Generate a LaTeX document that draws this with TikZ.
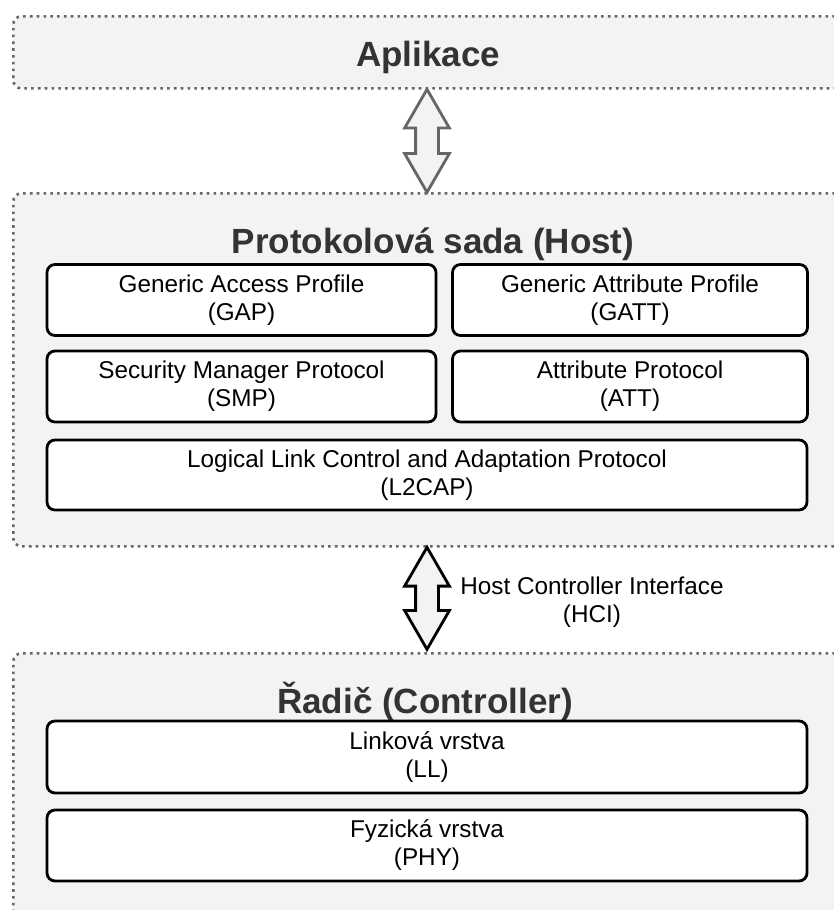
\documentclass[tikz,border=0pt]{standalone}
\usepackage{fontspec}
\setmainfont{Liberation Sans}
\usetikzlibrary{shapes.arrows,calc}
\definecolor{cfill}{HTML}{F3F3F3}
\definecolor{cdot}{HTML}{666666}
\definecolor{ctitle}{HTML}{333333}
\begin{document}
\begin{tikzpicture}[x=1pt,y=-1pt,
 container/.style={draw=cdot, fill=cfill, line width=2.6pt, dash pattern=on 2.6pt off 4.2pt, rounded corners=8pt, anchor=north west, inner sep=0pt},
 box/.style={draw=black, fill=white, line width=2.8pt, rounded corners=8pt, inner sep=0pt, align=center, font=\fontsize{24.3}{28}\selectfont},
 title/.style={font=\fontsize{35}{40}\selectfont\bfseries, text=ctitle, anchor=base, inner sep=0pt},
 dbl/.style={double arrow, rotate=90, fill=cfill, line width=2.8pt, inner xsep=0pt, inner ysep=10pt, double arrow head extend=11pt, double arrow tip angle=60},
 lbl/.style={font=\fontsize{24.3}{28}\selectfont, align=center, inner sep=0pt}
]
\useasboundingbox (0,0) rectangle (834,910);
\clip (0,0) rectangle (834,910);
% containers
\node[container, minimum width=850pt, minimum height=72pt] (app) at (12,15) {};
\node[container, minimum width=850pt, minimum height=353pt] (host) at (12,192) {};
\node[container, minimum width=850pt, minimum height=300pt] (ctrl) at (12,652) {};
% titles
\node[title] (tapp) at (428,66) {Aplikace};
\node[title] (thost) at (433,253) {Protokolová sada (Host)};
\node[title] (tctrl) at (425,713) {Řadič (Controller)};
% boxes
\node[box, minimum width=389pt, minimum height=71pt] (gap) at (241.5,300) {Generic Access Profile\\(GAP)};
\node[box, minimum width=355pt, minimum height=71pt] (gatt) at (630,300) {Generic Attribute Profile\\(GATT)};
\node[box, minimum width=389pt, minimum height=71pt] (smp) at (241.5,386.5) {Security Manager Protocol\\(SMP)};
\node[box, minimum width=355pt, minimum height=71pt] (att) at (630,386.5) {Attribute Protocol\\(ATT)};
\node[box, minimum width=760pt, minimum height=70pt] (l2cap) at (427,475) {Logical Link Control and Adaptation Protocol\\(L2CAP)};
\node[box, minimum width=760pt, minimum height=72pt] (ll) at (427,757) {Linková vrstva\\(LL)};
\node[box, minimum width=760pt, minimum height=71pt] (phy) at (427,845.5) {Fyzická vrstva\\(PHY)};
% arrows
\coordinate (m1) at ($(app.south west)!0.5!(host.north west)$);
\coordinate (m2) at ($(host.south west)!0.5!(ctrl.north west)$);
\node[dbl, draw=cdot, minimum height=103pt] (a1) at ([xshift=415pt]m1) {};
\node[dbl, draw=black, minimum height=102pt] (a2) at ([xshift=415pt,yshift=1.5pt]m2) {};
\node[lbl] (hci) at (592,602) {Host Controller Interface\\(HCI)};
\end{tikzpicture}
\end{document}
